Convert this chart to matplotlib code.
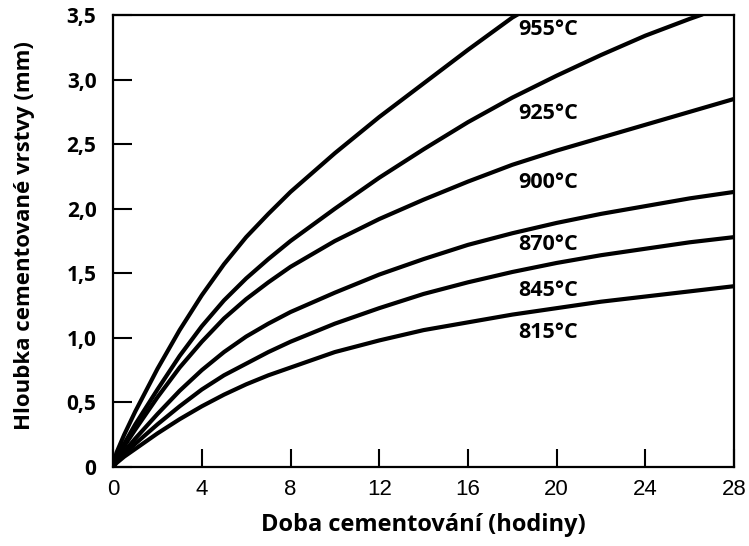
import matplotlib.pyplot as plt
from matplotlib.ticker import FuncFormatter

# hodnoty: doba (h) -> hloubka (mm)
t_955 = [0, 0.15, 0.5, 1, 2, 3, 4, 5, 6, 7, 8, 10, 12, 14, 16, 18, 18.2]
h_955 = [0, 0.11, 0.25, 0.43, 0.76, 1.06, 1.33, 1.57, 1.78, 1.96, 2.13, 2.43, 2.71, 2.97, 3.23, 3.48, 3.5]

t_925 = [0, 0.15, 0.5, 1, 2, 3, 4, 5, 6, 7, 8, 10, 12, 14, 16, 18, 20, 22, 24, 26, 26.5]
h_925 = [0, 0.08, 0.18, 0.33, 0.60, 0.86, 1.09, 1.29, 1.46, 1.61, 1.75, 2.00, 2.24, 2.46, 2.67, 2.86, 3.03, 3.19, 3.34, 3.47, 3.5]

t_other = [0, 0.15, 0.5, 1, 2, 3, 4, 5, 6, 7, 8, 10, 12, 14, 16, 18, 20, 22, 24, 26, 28]
h_900 = [0, 0.07, 0.16, 0.29, 0.54, 0.77, 0.97, 1.15, 1.30, 1.43, 1.55, 1.75, 1.92, 2.07, 2.21, 2.34, 2.45, 2.55, 2.65, 2.75, 2.85]
h_870 = [0, 0.05, 0.12, 0.22, 0.41, 0.59, 0.75, 0.89, 1.01, 1.11, 1.20, 1.35, 1.49, 1.61, 1.72, 1.81, 1.89, 1.96, 2.02, 2.08, 2.13]
h_845 = [0, 0.04, 0.10, 0.18, 0.33, 0.47, 0.60, 0.71, 0.80, 0.89, 0.97, 1.11, 1.23, 1.34, 1.43, 1.51, 1.58, 1.64, 1.69, 1.74, 1.78]
h_815 = [0, 0.03, 0.08, 0.14, 0.26, 0.37, 0.47, 0.56, 0.64, 0.71, 0.77, 0.89, 0.98, 1.06, 1.12, 1.18, 1.23, 1.28, 1.32, 1.36, 1.40]

labels = ["955°C", "925°C", "900°C", "870°C", "845°C", "815°C"]
label_y = [3.385, 2.74, 2.20, 1.72, 1.37, 1.04]

fig = plt.figure(figsize=(7.49, 5.46), dpi=100)
ax = fig.add_axes([0.151, 0.1447, 0.829, 0.8278])

for t, h in [(t_955, h_955), (t_925, h_925), (t_other, h_900),
             (t_other, h_870), (t_other, h_845), (t_other, h_815)]:
    ax.plot(t, h, color="black", lw=3, solid_joinstyle="round", clip_on=True)

for lab, y in zip(labels, label_y):
    ax.text(18.25, y, lab, fontsize=15.5, fontweight="bold", family="Open Sans",
            va="center", ha="left")

ax.set_xlim(0, 28)
ax.set_ylim(0, 3.5)
ax.set_xticks(range(0, 29, 4))
ax.set_yticks([0, 0.5, 1.0, 1.5, 2.0, 2.5, 3.0, 3.5])
ax.yaxis.set_major_formatter(FuncFormatter(
    lambda v, p: "0" if v == 0 else ("%.1f" % v).replace(".", ",")))

ax.tick_params(axis="x", direction="in", length=13, width=1.5, pad=9,
               labelsize=16, top=False)
ax.tick_params(axis="y", direction="in", length=14, width=1.5, pad=12,
               labelsize=15, right=False)
for lbl in ax.get_xticklabels():
    lbl.set_family("Liberation Sans")
for lbl in ax.get_yticklabels():
    lbl.set_family("Open Sans")
    lbl.set_fontweight("bold")

for s in ax.spines.values():
    s.set_linewidth(1.6)

ax.set_xlabel("Doba cementování (hodiny)", fontsize=17, fontweight="bold",
              family="Open Sans")
ax.set_ylabel("Hloubka cementované vrstvy (mm)", fontsize=16, fontweight="bold",
              family="Open Sans")
ax.xaxis.set_label_coords(0.5, -0.102)
ax.yaxis.set_label_coords(-0.126, 0.511)

fig.savefig("out.png", dpi=100)
